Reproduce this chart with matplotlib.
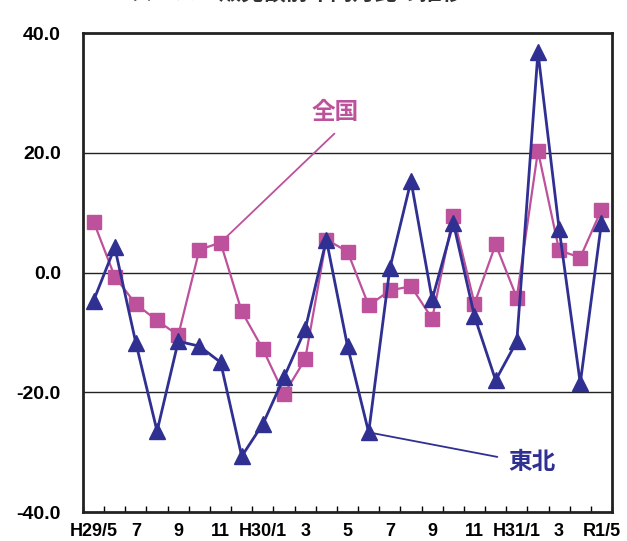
import numpy as np
import matplotlib.pyplot as plt

plt.rcParams['font.family'] = ['Liberation Sans Narrow', 'Liberation Sans', 'Noto Sans CJK JP', 'DejaVu Sans']

months = ["H29/5", "6", "7", "8", "9", "10", "11", "12", "H30/1", "2", "3", "4", "5",
          "6", "7", "8", "9", "10", "11", "12", "H31/1", "2", "3", "4", "R1/5"]
zenkoku = [8.5, -0.7, -5.3, -8.0, -10.5, 3.8, 5.0, -6.5, -12.8, -20.3, -14.5, 5.5, 3.5,
           -5.5, -3.0, -2.3, -7.7, 9.5, -5.2, 4.7, -4.2, 20.3, 3.7, 2.5, 10.5]
tohoku = [-4.7, 4.2, -11.8, -26.5, -11.5, -12.3, -15.0, -30.7, -25.3, -17.5, -9.5, 5.5, -12.3,
          -26.7, 0.7, 15.3, -4.5, 8.3, -7.3, -18.0, -11.5, 36.8, 7.3, -18.5, 8.3]
yticks = [40, 20, 0, -20, -40]

pink = '#BD519B'
blue = '#2F3091'
cjk = ['Noto Sans CJK JP', 'DejaVu Sans']

fig = plt.figure(figsize=(6.27, 5.41), dpi=100)
ax = fig.add_axes([0.1324, 0.0536, 0.8437, 0.8854])
x = np.arange(len(months))

ax.plot(x, zenkoku, '-s', color=pink, linewidth=1.6, markersize=10, zorder=3)
ax.plot(x, tohoku, '-^', color=blue, linewidth=2.0, markersize=11, zorder=4)

ax.set_xlim(-0.5, len(months) - 0.5)
ax.set_ylim(-40, 40)
ax.set_yticks(yticks)
ax.set_yticklabels(["%.1f" % v for v in yticks], fontsize=14, fontweight='bold')
ax.set_xticks(x[::2])
ax.set_xticklabels(months[::2], fontsize=13, fontweight='bold')
ax.set_xticks(np.arange(-0.5, len(months), 1), minor=True)
ax.tick_params(axis='x', which='major', length=0, pad=8)
ax.tick_params(axis='x', which='minor', direction='in', length=4, width=1)
ax.tick_params(axis='y', length=0, pad=16)
for v in [20, 0, -20]:
    ax.axhline(v, color='#222222', linewidth=1.0, zorder=1)
for s in ax.spines.values():
    s.set_linewidth(2.0)
    s.set_color('#222222')

# leader lines and labels
ax.annotate("", xy=(6, 5.0), xytext=(11.38, 23.2),
            arrowprops=dict(arrowstyle='-', color=pink, linewidth=1.3,
                            shrinkA=0, shrinkB=0))
ax.text(11.43, 26.8, "全国", color=pink, fontsize=17, fontweight='bold', family=cjk,
        ha='center', va='center')
ax.annotate("", xy=(13, -26.7), xytext=(19.08, -30.8),
            arrowprops=dict(arrowstyle='-', color=blue, linewidth=1.3,
                            shrinkA=0, shrinkB=2))
ax.text(20.7, -31.7, "東北", color=blue, fontsize=17, fontweight='bold', family=cjk,
        ha='center', va='center')

fig.text(0.474, 1.012, "スーパー販売額前年同月比の推移", fontsize=16, fontweight='bold',
         family=cjk, ha='center', va='center', color='#333333')

fig.savefig("out.png", dpi=100)
